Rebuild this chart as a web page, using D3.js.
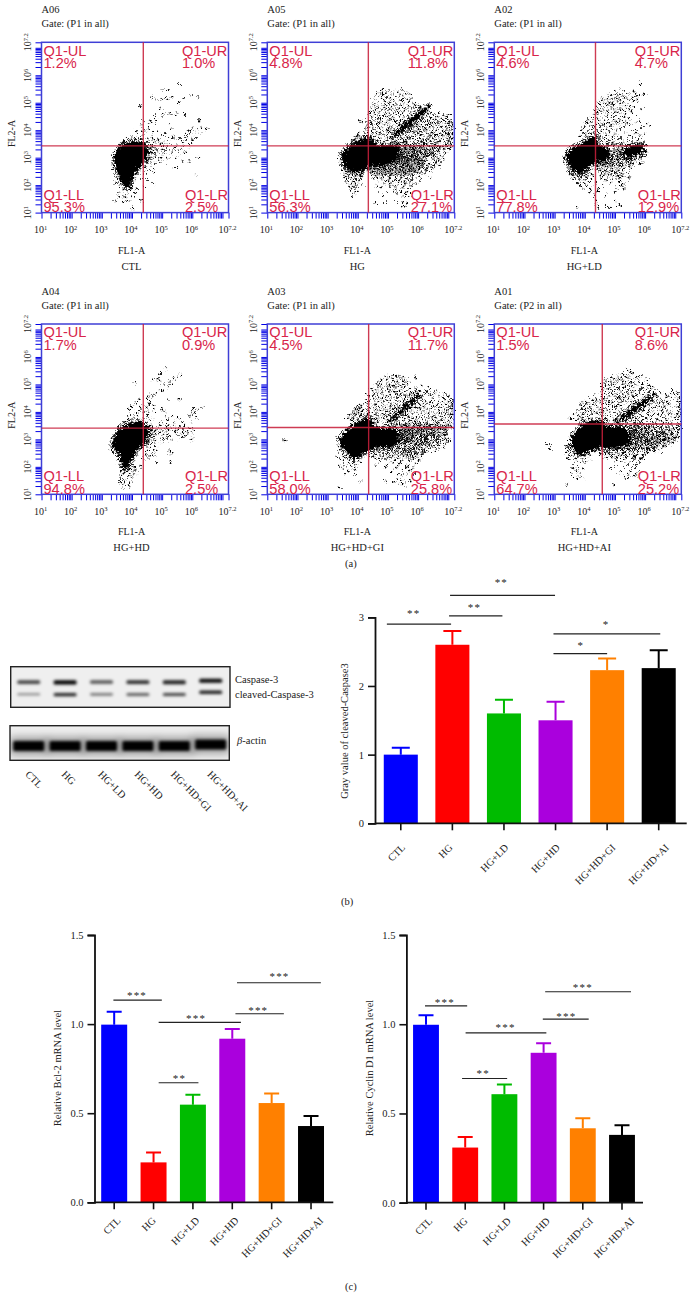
<!DOCTYPE html>
<html><head><meta charset="utf-8">
<script src="https://cdn.jsdelivr.net/npm/d3@7"></script>
<style>html,body{margin:0;padding:0;background:#fff}svg{display:block}text{font-family:"Liberation Serif",serif;fill:#222}</style>
</head><body><svg id="c" width="696" height="1299"></svg>
<script>
const groups=["CTL","HG","HG+LD","HG+HD","HG+HD+GI","HG+HD+AI"];
const barColors=["#0000ff","#ff0000","#00bb00","#aa00dd","#ff8000","#000000"];
// (a) flow cytometry: exponents x100
const sampleIds=["A06","A05","A02","A04","A03","A01"];
const gates=["P1","P1","P1","P1","P1","P2"];
const pctUL=["1.2%","4.8%","4.6%","1.7%","4.5%","1.5%"];
const pctUR=["1.0%","11.8%","4.7%","0.9%","11.7%","8.6%"];
const pctLL=["95.3%","56.3%","77.8%","94.8%","58.0%","64.7%"];
const pctLR=["2.5%","27.1%","12.9%","2.5%","25.8%","25.2%"];
const gateX=[437.5,435,435.5,437.5,436,458];
const gateY=[343,343,343,341,343,356];
const denseCTL=[[[343,303],[365,345],[426,358],[454,327],[448,291],[426,266],[404,230],[387,194],[371,200],[354,242],[343,273]]];
const denseHG=[[[347,308],[369,339],[408,363],[436,373],[463,351],[508,345],[525,345],[530,300],[495,275],[441,270],[408,250],[375,255],[353,280]],[[520,378],[630,476],[634,486],[526,392]]];
const denseLD=[[[338,297],[355,333],[394,352],[438,382],[444,345],[471,333],[477,291],[444,285],[410,266],[383,242],[355,266]],[[532,333],[590,345],[585,315],[545,303],[525,315]]];
const denseHD=[[[338,293],[360,335],[399,359],[427,365],[454,341],[443,287],[416,262],[399,226],[377,190],[366,208],[355,250],[338,262]]];
const denseGI=[[[341,299],[375,341],[402,365],[441,374],[458,345],[525,337],[535,295],[515,275],[463,272],[430,258],[391,232],[358,262]],[[505,360],[602,458],[606,466],[512,374]]];
const denseAI=[[[355,299],[377,335],[399,359],[460,365],[471,350],[535,342],[548,295],[525,272],[460,272],[416,258],[388,244],[360,268]],[[505,358],[624,452],[628,462],[512,372]]];
const rowsCTL=[[568,[559]],[546,[522,498]],[531,[594]],[522,[465,534]],[516,[569,619,514]],[513,[481,500]],[501,[555]],[488,[426]],[475,[492]],[461,[503,525,547]],[455,[476,575]],[446,[495]],[434,[437,462,480,623]],[422,[428,475,520]],[406,[432,455,536,600,630,647]],[396,[416,445,490,585,610]],[388,[440,470,510,592,625]],[379,[398,417,500,535,576,605]],[372,[384,408,430,465,520,556,612]],[365,[392,455,488,545,600,580]],[358,[380,450,475,512,568]],[350,[372,445,465,495,530,590]],[343,[468,490,515,548,572]],[336,[462,482,505,540,565]],[329,[458,475,498,520,555,592]],[322,[465,488,510,535,575]],[312,[460,478,502,530,560]],[300,[458,472,495,522,548,620]],[290,[452,470,490,515,570,590]],[278,[458,480]],[266,[445,468,545]],[255,[460]],[245,[440,472]],[234,[610]],[222,[350,430,450]],[208,[345,400,470]],[196,[360,390,440]],[185,[372,395,420]],[172,[355,385,410]],[158,[358,378,400]],[143,[345,372,385,432]],[115,[405]]];
const rowsHD=[[559,[513]],[541,[493]],[535,[565]],[528,[551]],[519,[470,488,538]],[511,[495,528]],[503,[410,505]],[490,[520]],[478,[498]],[462,[476,462]],[452,[470,452]],[445,[425,520,558]],[432,[412,458,462]],[420,[398,428,447,470,640]],[408,[392,430,455,498,606,620]],[398,[408,442,470,505,600,612]],[386,[390,418,450,512,535,590,610]],[376,[388,402,440,465,520,552,615]],[362,[376,395,460,500,540,568,600]],[350,[372,465,490,515,558,575]],[342,[470,486,510,535,552,590]],[333,[462,478,498,520,545,572,600]],[325,[458,475,490,515,540,568,585]],[316,[462,482,505,525,552,578]],[306,[458,470,495,512,565,600]],[296,[456,478,500,530,600]],[285,[450,470,490]],[272,[448,462,480]],[260,[452,478,525]],[245,[445,472,520,530]],[232,[438,455]],[218,[480,528]],[200,[390,405,430]],[188,[365,385,405,415]],[176,[372,392,408]],[164,[362,388,402]],[152,[360,378,395]],[138,[365,378,392]],[128,[370,388]]];
const rowsLD=[[570,[582,586]],[548,[520]],[540,[505,530,565]],[532,[492,514,545,598]],[525,[475,500,522,570,580]],[518,[462,488,508,535,555]],[511,[450,475,498,518,545,572]],[504,[458,482,506,528,562]],[497,[445,470,492,516,540]],[490,[452,480,500,525,550]],[483,[440,465,488,512,535,560]],[476,[448,475,498,522,546,590]],[468,[432,458,482,505,530,555]],[460,[442,468,492,515,538]],[452,[430,450,475,500,528,570]],[444,[420,438,462,488,512,545]],[436,[412,445,470,495,520,552,580]],[428,[405,425,452,478,505,535,568]],[420,[416,440,462,488,515,548,610]],[412,[400,428,450,475,500,530,590]],[404,[392,420,440,465,490,520,560]],[396,[408,432,458,482,505,540,575]],[388,[395,415,445,470,498,530,565,600]],[380,[385,405,450,478,505,545,585]],[372,[400,448,465,492,520,560]],[364,[392,455,480,510,540,578]],[356,[450,470,495,525,555,592]],[349,[475,490,505,520,572,600]],[338,[478,498,515,592]],[330,[480,495,512,600]],[322,[482,498,512,590,605]],[314,[480,495,510,520,592]],[306,[478,490,505,520,535,585,600]],[298,[480,492,505,518,532,548,565,585]],[290,[452,468,482,496,510,524,538,552,570]],[283,[450,465,480,494,508,522,538,555,582,595]],[276,[445,462,478,492,508,524,540,560]],[268,[348,362,448,465,482,500,516,535,555]],[260,[352,368,395,440,458,476,495,512,530,550]],[252,[358,375,392,405,448,468,488,506,525]],[244,[350,365,382,400,418,455,475,498,515,540]],[236,[360,378,395,412,462,485,505,525]],[228,[368,388,405,452,475,495,518,545]],[218,[362,382,400,418,470,490,515]],[208,[375,395,412,440,485,535]],[198,[385,405,432,460,525]],[188,[395,420,445,505,530]],[176,[415,445,500]],[162,[430,470]],[145,[435,500]],[128,[432,470,515]],[118,[375,445,480]],[345,[462,480,495,510,525]],[326,[470,490,505,520,535,600]],[310,[470,485,500,515,530,540]],[294,[460,475,490,502,515,530,545,560]],[280,[455,472,488,503,518,534,552]],[272,[440,455,472,488,506,526,545]],[255,[345,360,380,398,412,452,472,492,510,528]],[240,[355,372,390,408,426,465,482,506]]];
const rowsHG=[[545,[478,502,521,548]],[537,[468,492,533,557,565]],[529,[461,486,512,541,571]],[521,[474,497,526,552]],[512,[455,483,508,535,563,578]],[505,[466,492,519,547,570]],[497,[449,477,503,528,556,585]],[490,[458,486,514,541,567,596]],[483,[470,497,524,553,579,604,612]],[476,[446,463,489,512,537,566,590,618,626]],[469,[452,478,503,529,555,581,607,622]],[462,[441,469,494,520,547,574,599,615,640,668]],[455,[456,485,511,538,566,589,606,625,652,683,701]],[448,[443,472,499,526,552,578,598,612,634,661,690]],[441,[461,488,514,541,569,590,603,622,647,674,698,709]],[434,[408,435,452,477,505,533,559,582,594,613,636,660,686,705]],[427,[412,444,468,495,522,549,574,586,601,620,645,671,694,712]],[420,[432,459,486,512,538,563,578,592,608,630,655,680,702,714]],[413,[440,473,501,528,551,568,584,599,617,641,666,689,708]],[406,[428,455,482,515,540,558,574,590,606,627,652,676,697,712]],[399,[437,464,494,522,545,562,580,597,615,638,662,685,704]],[392,[405,425,449,476,505,531,548,566,586,603,624,648,671,693,710]],[385,[398,433,458,488,515,536,552,571,592,612,633,657,680,699,714]],[378,[402,421,444,470,497,523,541,560,579,600,620,643,668,690,706]],[371,[392,412,430,452,482,508,530,549,567,586,607,628,651,676,697,713]],[364,[385,440,463,490,515,538,556,574,594,615,637,660,684,703]],[357,[455,476,499,521,544,562,583,603,624,646,670,693,709]],[348,[535,552,568,582,598,615,630,648,667,688,706]],[341,[531,545,560,575,589,604,620,637,655,676,697,711]],[334,[536,549,564,579,594,609,626,644,663,684,703]],[327,[533,546,558,572,587,601,617,633,651,672,692]],[320,[537,551,566,580,595,611,628,646,666,686]],[313,[532,544,557,570,585,600,615,632,650,670,690]],[306,[536,549,563,578,592,607,622,640,658,678]],[299,[446,465,482,500,518,530,543,556,570,584,598,614,630,648,668]],[292,[439,458,477,494,512,527,540,553,567,581,596,612,628,646,664,684]],[285,[444,462,480,498,516,533,548,562,575,590,605,622,640,660,678]],[278,[437,455,473,491,509,526,542,557,571,586,603,620,638,656]],[271,[348,361,378,442,460,478,496,515,532,549,564,579,596,614,632,650,672]],[264,[354,372,389,404,436,453,471,489,507,525,543,560,575,592,611,630,648]],[257,[361,380,396,412,447,466,485,503,522,540,557,573,590,608,626,646]],[250,[352,368,387,403,421,440,460,480,500,519,536,553,570,588,606,628]],[243,[360,378,395,414,452,473,495,514,533,552,568,586,604,622]],[236,[367,385,406,446,468,490,510,529,548,565,583,602]],[229,[355,376,396,417,461,484,506,526,545,563,581,598,640]],[222,[370,390,410,452,478,502,524,544,562,580,610]],[214,[362,383,405,470,498,520,540,558,577]],[206,[376,396,415,488,512,535,556,572,592]],[198,[368,390,462,505,530,552,578]],[190,[383,404,478,525,548,570]],[180,[375,395,470,520,545,566]],[170,[388,497,532,558]],[160,[380,482,552,575]],[135,[455,490,530,548,562]],[122,[552]],
[445,[470,515,590,640]],[424,[480,540,600,665]],[402,[450,505,570,625,690]],[388,[470,530,585,640,695]],[374,[445,515,575,635,680]],[360,[445,500,555,610,665]],[352,[510,525,540,560,590,620,655,700]],[344,[515,528,552,567,596,612,645,662,690]],[337,[526,541,557,571,586,617,652,675]],[330,[528,540,552,565,579,594,610,640,668]],[323,[530,544,558,573,589,604,622,655]],[316,[526,539,551,562,575,591,606,624,642,662]],[309,[528,541,555,571,585,600,615,630,648]],[302,[525,536,549,562,577,590,605,622]],[296,[455,474,490,510,524,537,550,563,577,591,607]],[289,[450,468,486,503,520,534,547,560,574,589,604,620]],[282,[453,471,489,507,525,540,555,568,582,598,614]],[275,[446,464,482,500,518,535,550,564,578,594,611]],[268,[385,398,450,469,487,505,523,541,556,571,587,605]],[260,[370,388,405,443,462,481,499,517,535,552,567,583,600]],[253,[375,392,410,455,474,492,510,529,547,562,578,596]],[246,[365,384,404,445,465,486,505,524,542,560,577,594]],[239,[372,392,412,458,480,500,520,540,556,574]]];
const rowsGI=[[532,[500,526]],[525,[490,512,538,552,590]],[517,[478,498,520,548,562]],[510,[468,490,512,535,556]],[503,[460,482,504,528,550,565]],[496,[472,495,518,540,560,612]],[489,[455,480,505,528,552,590]],[482,[445,470,495,518,545,575,600,640]],[475,[438,462,485,510,535,562,588,630,660]],[468,[450,475,500,525,550,575,600,620,650,680]],[461,[433,458,482,508,532,558,582,605,635,668,700]],[454,[442,468,492,518,542,568,592,615,645,678,706]],[447,[430,452,478,505,530,555,578,600,626,656,690,714]],[440,[440,465,490,515,538,562,586,610,638,668,698,716]],[433,[428,452,478,502,526,548,572,596,622,650,680,708]],[426,[406,436,462,488,512,535,558,582,606,632,662,692,712]],[419,[400,412,445,470,496,520,544,568,592,618,646,676,702,714]],[412,[395,408,430,455,480,505,528,552,576,602,628,656,684,710]],[405,[388,402,416,438,465,490,514,536,560,585,612,640,668,696,716]],[398,[382,396,410,428,450,475,500,524,548,572,598,625,652,680,706]],[391,[376,392,408,436,460,485,510,534,558,582,608,635,664,692,714]],[384,[370,388,405,428,448,472,496,520,544,568,594,620,648,676,702]],[377,[365,382,425,440,462,486,508,532,556,580,606,632,660,688,712]],[370,[380,452,472,495,520,545,570,595,620,648,676,704]],[362,[462,482,505,530,556,582,606,632,660,690,714]],[354,[530,545,560,575,590,606,622,640,660,680,700]],[347,[528,542,555,568,582,596,610,626,642,662,684,706]],[340,[538,552,566,580,594,610,628,646,664,688,712]],[333,[541,556,570,584,598,614,630,650,670,694]],[326,[545,560,574,588,604,620,638,656,678,700]],[319,[543,558,572,586,602,618,636,654,674,698]],[312,[541,555,568,582,596,612,630,650,670,692]],[305,[545,560,574,590,606,624,644,664,688]],[298,[541,556,570,584,600,618,636,656,680,704]],[291,[538,554,566,580,596,612,630,650,672,696]],[284,[446,470,496,520,536,558,572,588,604,622,642,664,690]],[277,[440,462,484,508,530,552,570,586,604,624,646,670]],[270,[338,352,445,468,490,512,534,554,572,590,610,632,656,684]],[262,[345,362,378,438,460,484,506,528,550,570,590,612,636,662]],[254,[335,354,372,388,406,450,474,498,522,546,568,590,614,640]],[246,[348,366,384,402,420,462,488,514,540,564,588,612]],[238,[330,356,376,396,414,448,476,504,532,558,582,608]],[228,[345,368,390,408,465,495,525,552,578,604]],[218,[358,382,402,480,512,542,570,598]],[208,[340,372,395,462,500,535,565,590]],[198,[352,385,492,528,560,585]],[186,[370,395,515,550,575]],[174,[360,388,540,565,590]],[160,[535,558,580]],[147,[410,490,520,545,575]],[136,[545,560]],[126,[340]],[296,[157]],
[358,[555,570,598,628,668,705]],[350,[552,566,584,601,618,635,652,672,694]],[343,[558,575,590,603,618,634,655,675,700]],[336,[548,562,578,592,606,622,640,660,682]],[329,[540,554,567,581,595,610,626,644,664,690]],[322,[538,552,565,580,596,612,630,648,668]],[315,[550,564,578,592,608,625,642,662,684]],[308,[538,552,566,578,594,610,628,646,666]],[301,[548,562,576,592,610,628,648,670]],[294,[544,558,572,588,604,622,640,660]],[287,[450,476,500,524,548,562,578,594,612,630,652]],[280,[452,472,494,516,538,556,574,592,610,632]],[266,[450,472,494,516,538,560,580,600,622]],[258,[444,466,490,512,534,556,578,600,624]],[250,[455,480,504,528,552,574,598,620]],[242,[440,470,496,522,548,572,596]],[233,[455,484,514,542,568,592]]];
const rowsAI=[[550,[544]],[541,[525,555]],[533,[505,535,590]],[526,[490,515,545,575,570]],[518,[475,498,522,550,605]],[511,[465,488,510,535,560,580]],[504,[458,480,505,528,552,595]],[497,[470,495,520,545,570,612]],[490,[460,485,510,535,560,590,625]],[483,[455,475,500,525,550,580,605,640]],[476,[465,490,515,540,565,590,620,690,705]],[469,[456,480,505,530,555,580,610,650,680,712]],[462,[432,470,495,520,545,570,600,636,668,700]],[455,[458,482,508,532,558,584,612,640,672,704,716]],[448,[418,438,465,490,516,542,566,592,620,652,686,712]],[441,[400,428,452,478,504,530,556,582,610,640,672,704]],[434,[392,412,440,466,492,518,544,570,596,628,660,692,716]],[427,[385,408,430,456,482,508,534,560,586,614,646,680,712]],[420,[400,420,448,474,500,524,550,576,604,634,666,698,714]],[413,[390,412,440,466,490,516,542,568,596,626,658,690,716]],[406,[378,398,425,452,478,504,530,556,584,612,644,676,706]],[399,[388,408,436,462,488,514,540,566,594,624,656,688,712]],[392,[370,396,420,448,474,500,526,552,580,610,642,674,704]],[385,[382,405,432,458,484,510,536,562,590,620,652,684,714]],[378,[350,392,415,442,468,494,520,546,574,604,636,668,698]],[371,[362,380,402,474,498,524,550,576,606,638,670,702]],[364,[395,420,480,510,536,562,590,620,654,688,712]],[352,[540,556,570,586,602,620,640,660,682,706]],[345,[548,566,580,596,612,630,650,672,696,716]],[338,[552,570,584,600,618,636,656,680,704]],[331,[556,572,588,604,622,642,664,690,714]],[324,[555,570,584,598,612,628,646,668,692]],[317,[552,568,582,596,610,626,644,664,686,708]],[310,[556,572,584,594,608,624,642,662,684,706]],[303,[552,568,582,598,612,630,648,668,692]],[296,[556,574,586,600,616,634,654,676,698]],[289,[545,558,574,590,606,624,644,666,690]],[282,[538,552,568,584,600,618,638,660,684]],[275,[335,350,450,474,498,522,546,566,584,602,622,644,668]],[268,[345,362,342,458,482,506,530,552,572,592,612,636,660]],[261,[350,372,445,470,494,518,542,564,586,608,630,656]],[253,[340,362,382,455,480,505,530,554,578,600]],[245,[352,372,395,412,468,496,522,548,574,596]],[237,[358,380,404,484,514,540,568,592]],[228,[344,368,392,420,502,532,562,588]],[218,[378,402,522,552,580]],[207,[354,384,500,540,570]],[196,[362,392,490,530,560]],[184,[372,515,552,578]],[172,[358,380,545,568]],[160,[372,395,535,562]],[135,[340,495]],[283,[272,288]],[262,[288]],
[358,[560,578,596,614,636,658,684,710]],[348,[552,575,592,608,626,646,668,692]],[341,[558,578,594,610,628,648,670,694,712]],[334,[564,582,598,616,636,660,684,708]],[327,[562,576,590,606,622,640,660,682,704]],[320,[560,578,592,606,622,640,658,680]],[313,[564,582,596,612,630,650,672,696]],[306,[560,576,590,604,620,638,656,678,700]],[299,[564,580,596,610,626,644,664,686]],[292,[560,578,596,612,632,652,674]],[285,[556,572,590,608,628,648,670]],[278,[462,488,512,536,558,576,594,614,636,660]],[271,[450,472,496,520,544,564,584,604,626,650]],[264,[448,476,500,524,548,570,592,616,640]],[257,[440,462,486,512,536,560,582,606,630]],[249,[450,474,500,526,552,576,600]],[241,[460,486,512,538,564,588]],[233,[474,506,536,566,590]]];
const allRows=[rowsCTL,rowsHG,rowsLD,rowsHD,rowsGI,rowsAI];
const allDense=[denseCTL,denseHG,denseLD,denseHD,denseGI,denseAI];
// (b) blot band strengths
const casp3Bands=[.72,1,.66,.82,.88,.98];
const cleavedBands=[.38,.85,.5,.6,.72,.88];
const actinBands=[1,1,1,1,1,1];
const bandLift=[0,0,0,0,0,1.5];
// (b) bars
const caspMean=[1,2.6,1.6,1.5,2.23,2.26], caspErr=[1.1,2.8,1.8,1.77,2.4,2.52];
const caspTicks=[0,1,2,3];
const caspSig=[[-.27,.975,2.9,.25,3.07,"**"],[.936,1.97,3.02,1.43,3.165,"**"],[.955,2.99,3.32,1.95,3.53,"**"],[2.96,4,2.47,3.49,2.61,"*"],[2.96,5.03,2.76,3.98,2.92,"*"]];
// (c) bars
const bclMean=[.997,.224,.548,.918,.557,.428], bclErr=[1.07,.28,.604,.972,.61,.484];
const bclSig=[[-.02,1.21,1.135,.58,1.17,"***"],[1.13,3.22,1.01,2.08,1.04,"***"],[1.13,2.14,.671,1.66,.705,"**"],[3.08,4.31,1.058,3.66,1.083,"***"],[3.12,5.25,1.232,4.2,1.273,"***"]];
const cycMean=[.997,.309,.608,.84,.417,.38], cycErr=[1.05,.368,.662,.894,.473,.434];
const cycSig=[[-.025,1.05,1.103,.48,1.13,"***"],[1.01,3.07,.952,2.03,.99,"***"],[.92,2.07,.696,1.46,.73,"**"],[2.98,4.15,1.029,3.58,1.053,"***"],[3.04,5.23,1.182,4.0,1.213,"***"]];
const mrnaTicks=[0,.5,1,1.5];
const labelShift=[0,-4,0,0,4,6];

const svg=d3.select("#c");
const SERIF='"Liberation Serif",serif';
const txt=(g,x,y,s,size,anchor)=>g.append("text").attr("x",x).attr("y",y).attr("font-size",size).attr("text-anchor",anchor||"start").text(s);
const defs=svg.append("defs");

// ---- panel (a)
const lefts=[41.5,267.3,494.3], tops=[42.3,324], W=187, H=170.3;
const minor=[];d3.range(1,8).forEach(d=>d3.range(1,10).forEach(m=>{const v=m*10**d;if(v<=10**7.2)minor.push(v)}));minor.push(10**7.2);
const majors=[1,2,3,4,5,6,7.2];
function sup(t,e){t.append("tspan").text("10");t.append("tspan").attr("dy",-3.5).attr("font-size",6.5).text(e)}
groups.forEach((name,i)=>{
  const L=lefts[i%3],T=tops[Math.floor(i/3)];
  const f=defs.append("filter").attr("id","sp"+i).attr("filterUnits","userSpaceOnUse").attr("x",0).attr("y",0).attr("width",696).attr("height",600).attr("color-interpolation-filters","sRGB");
  f.append("feTurbulence").attr("type","fractalNoise").attr("baseFrequency",.42).attr("numOctaves",2).attr("seed",i*5+3).attr("result","n");
  f.append("feDisplacementMap").attr("in","SourceGraphic").attr("in2","n").attr("scale",9).attr("xChannelSelector","R").attr("yChannelSelector","G");
  const g=svg.append("g").attr("transform",`translate(${L},${T})`);
  const x=d3.scaleLog().domain([10,10**7.2]).range([0,W]);
  const y=d3.scaleLog().domain([10,10**7.2]).range([H,0]);
  const e=v=>10**(v/100);
  txt(g,0,-29,sampleIds[i],10.5);
  txt(g,0,-15,`Gate: (${gates[i]} in all)`,10.5);
  const pts=[];allRows[i].forEach(r=>r[1].forEach(v=>pts.push([v,r[0]])));
  const cloud=g.append("g").attr("filter",`url(#sp${i})`);
  cloud.append("g").selectAll("circle").data(pts).join("circle").attr("cx",d=>x(e(d[0]))).attr("cy",d=>y(e(d[1]))).attr("r",1).attr("fill","#000");
  const line=d3.line().x(d=>x(e(d[0]))).y(d=>y(e(d[1]))).curve(d3.curveCatmullRomClosed.alpha(.5));
  cloud.append("g").selectAll("path").data(allDense[i]).join("path").attr("d",line).attr("fill","#000").attr("stroke","#000").attr("stroke-width",6).attr("stroke-dasharray","1 1.7");
  const ax=d3.axisBottom(x).tickValues(minor).tickSize(6).tickFormat("");
  const ay=d3.axisLeft(y).tickValues(minor).tickSize(6).tickFormat("");
  [g.append("g").attr("transform",`translate(0,${H})`).call(ax),g.append("g").call(ay)].forEach(a=>{a.select(".domain").remove();a.selectAll("line").attr("stroke","#0000e6").attr("stroke-width",1)});
  g.append("rect").attr("width",W).attr("height",H).attr("fill","none").attr("stroke","#3f3fd6").attr("stroke-width",1.5);
  const cx=x(e(gateX[i])),cy=y(e(gateY[i]));
  g.append("line").attr("x1",cx).attr("x2",cx).attr("y1",0).attr("y2",H).attr("stroke","#c8203c").attr("stroke-width",1.4).attr("opacity",.88);
  g.append("line").attr("x1",0).attr("x2",W).attr("y1",cy).attr("y2",cy).attr("stroke","#c8203c").attr("stroke-width",1.4).attr("opacity",.88);
  majors.forEach(m=>{
    const t=g.append("text").attr("font-size",10).attr("text-anchor","middle").attr("x",x(10**m)-1).attr("y",H+20.5);sup(t,m);
    const u=g.append("text").attr("font-size",10).attr("text-anchor","middle").attr("transform",`translate(-10.5,${y(10**m)}) rotate(-90)`);sup(u,m);
  });
  txt(g,W/2-3.5,H+41,"FL1-A",10,"middle");
  txt(g,W/2-3.5,H+57,name,10.5,"middle");
  g.append("text").attr("font-size",10).attr("text-anchor","middle").attr("transform",`translate(-26.5,${H/2+6}) rotate(-90)`).text("FL2-A");
  const q=(xx,yy,s)=>g.append("text").attr("x",xx).attr("y",yy).attr("font-size",14.6).style("font-family",'"Liberation Sans",sans-serif').style("fill","#d8244a").text(s);
  q(2,13.4,"Q1-UL");q(2,26,pctUL[i]);q(W-46.5,13.4,"Q1-UR");q(W-46.5,26,pctUR[i]);
  q(2,H-13,"Q1-LL");q(2,H-.5,pctLL[i]);q(W-43.5,H-13,"Q1-LR");q(W-43.5,H-.5,pctLR[i]);
});
txt(svg,345,567,"(a)",10.5);
txt(svg,341,905,"(b)",10.5);
txt(svg,345,1290,"(c)",10.5);

// ---- blot
[["b1",1.4],["b2",1.8],["b3",4]].forEach(f=>defs.append("filter").attr("id",f[0]).attr("x","-40%").attr("y","-100%").attr("width","180%").attr("height","300%").append("feGaussianBlur").attr("stdDeviation",f[1]));
const lane=d3.scalePoint().domain(groups).range([28.7,210.7]);
function blot(id,bx,by,bw,bh,series){
  defs.append("clipPath").attr("id",id).append("rect").attr("x",bx).attr("y",by).attr("width",bw).attr("height",bh);
  svg.append("rect").attr("x",bx).attr("y",by).attr("width",bw).attr("height",bh).attr("fill","#efefef");
  const g=svg.append("g").attr("clip-path",`url(#${id})`);
  series.forEach(s=>{
    if(s.halo)g.append("g").attr("filter","url(#b3)").selectAll("rect").data(groups).join("rect").attr("x",d=>lane(d)-19).attr("width",38).attr("y",(d,i)=>s.y-bandLift[i]-9).attr("height",18).attr("fill","#000").attr("opacity",.35);
    g.append("g").attr("filter",`url(#${s.f})`).selectAll("rect").data(groups).join("rect")
     .attr("x",(d,i)=>lane(d)-s.w/2).attr("width",s.w).attr("y",(d,i)=>s.y-bandLift[i]*(s.k||1)-s.h/2).attr("height",(d,i)=>s.h*(.6+.4*s.v[i])).attr("rx",1.5)
     .attr("fill","#000").attr("opacity",(d,i)=>s.v[i]);
  });
  svg.append("rect").attr("x",bx).attr("y",by).attr("width",bw).attr("height",bh).attr("fill","none").attr("stroke","#222").attr("stroke-width",1.4);
}
blot("bl1",10.7,666.7,219.3,40.6,[{y:682.3,w:23,h:4.2,v:casp3Bands,f:"b1",k:1},{y:694.7,w:23,h:3.6,v:cleavedBands,f:"b1",k:1.6}]);
blot("bl2",10,725.7,219.3,34.6,[{y:746,w:31,h:10,v:actinBands,f:"b2",halo:true}]);
txt(svg,235,683,"Caspase-3",10.5);
txt(svg,235,698,"cleaved-Caspase-3",10.5);
const ba=svg.append("text").attr("x",237).attr("y",744).attr("font-size",10.5);
ba.append("tspan").attr("font-style","italic").text("β");ba.append("tspan").text("-actin");
groups.forEach(n=>{svg.append("text").attr("font-size",10.3).attr("transform",`translate(${lane(n)-4},775) rotate(45)`).text(n)});

// ---- bar charts
function bars(o){
  const x=d3.scaleBand().domain(groups).range([o.x0,o.x1]).paddingInner(o.pad).paddingOuter(o.pad/2);
  const y=d3.scaleLinear().domain([0,o.max]).range([o.y0,o.y1]);
  const gx=i=>x(groups[0])+x.bandwidth()/2+i*x.step();
  const g=svg.append("g");
  g.selectAll("rect.bar").data(groups).join("rect").attr("class","bar").attr("x",d=>x(d)).attr("width",x.bandwidth()).attr("y",(d,i)=>y(o.mean[i])).attr("height",(d,i)=>o.y0-y(o.mean[i])).attr("fill",(d,i)=>barColors[i]);
  g.selectAll("path.err").data(groups).join("path").attr("class","err").attr("fill","none").attr("stroke",(d,i)=>barColors[i]).attr("stroke-width",2)
    .attr("d",(d,i)=>{const c=x(d)+x.bandwidth()/2,t=y(o.err[i]),m=y(o.mean[i]);return `M${c},${m}V${t}M${c-o.cap},${t}H${c+o.cap}`});
  const ay=g.append("g").attr("transform",`translate(${o.x0},0)`).call(d3.axisLeft(y).tickValues(o.ticks).tickSize(7).tickPadding(4).tickFormat(o.fmt));
  const ab=g.append("g").attr("transform",`translate(0,${o.y0})`).call(d3.axisBottom(x).tickSize(7));
  [ay,ab].forEach(a=>{a.selectAll("line").attr("stroke","#111").attr("stroke-width",1.6);a.select(".domain").attr("stroke","#111").attr("stroke-width",1.8)});
  ab.select(".domain").attr("d",`M${o.x0},0H${o.xEnd}`);
  ay.selectAll("text").attr("font-size",10.5).style("font-family",SERIF).style("fill","#222");
  ab.selectAll("text").attr("font-size",10.3).style("font-family",SERIF).style("fill","#222").attr("text-anchor","end").attr("dy",0).attr("y",0).attr("x",0)
    .attr("transform",(d,i)=>`translate(${o.lx+labelShift[i]},${o.ly}) rotate(-45)`);
  g.append("text").attr("font-size",10.5).attr("text-anchor","middle").attr("transform",`translate(${o.tx},${o.ty}) rotate(-90)`).text(o.title);
  o.sig.forEach(s=>{
    g.append("line").attr("x1",gx(s[0])).attr("x2",gx(s[1])).attr("y1",y(s[2])).attr("y2",y(s[2])).attr("stroke","#222").attr("stroke-width",1.2);
    g.append("text").attr("x",gx(s[3])).attr("y",y(s[4])+5).attr("text-anchor","middle").attr("font-size",11).attr("letter-spacing",1.2).text(s[5]);
  });
}
bars({x0:375,x1:684.5,xEnd:686.7,y0:823.3,y1:617.3,max:3,pad:.34,cap:9,mean:caspMean,err:caspErr,ticks:caspTicks,fmt:d3.format("d"),sig:caspSig,title:"Gray value of cleaved-Caspase3",tx:348,ty:731,lx:5,ly:25});
bars({x0:94.5,x1:330.7,xEnd:333.3,y0:1202.3,y1:935,max:1.5,pad:.34,cap:7.5,mean:bclMean,err:bclErr,ticks:mrnaTicks,fmt:d3.format(".1f"),sig:bclSig,title:"Relative Bcl-2 mRNA level",tx:61,ty:1068,lx:7,ly:19});
bars({x0:406.4,x1:641.6,xEnd:643,y0:1202.7,y1:935,max:1.5,pad:.34,cap:7.5,mean:cycMean,err:cycErr,ticks:mrnaTicks,fmt:d3.format(".1f"),sig:cycSig,title:"Relative Cyclin D1 mRNA level",tx:373,ty:1068,lx:7,ly:19});
</script></body></html>
